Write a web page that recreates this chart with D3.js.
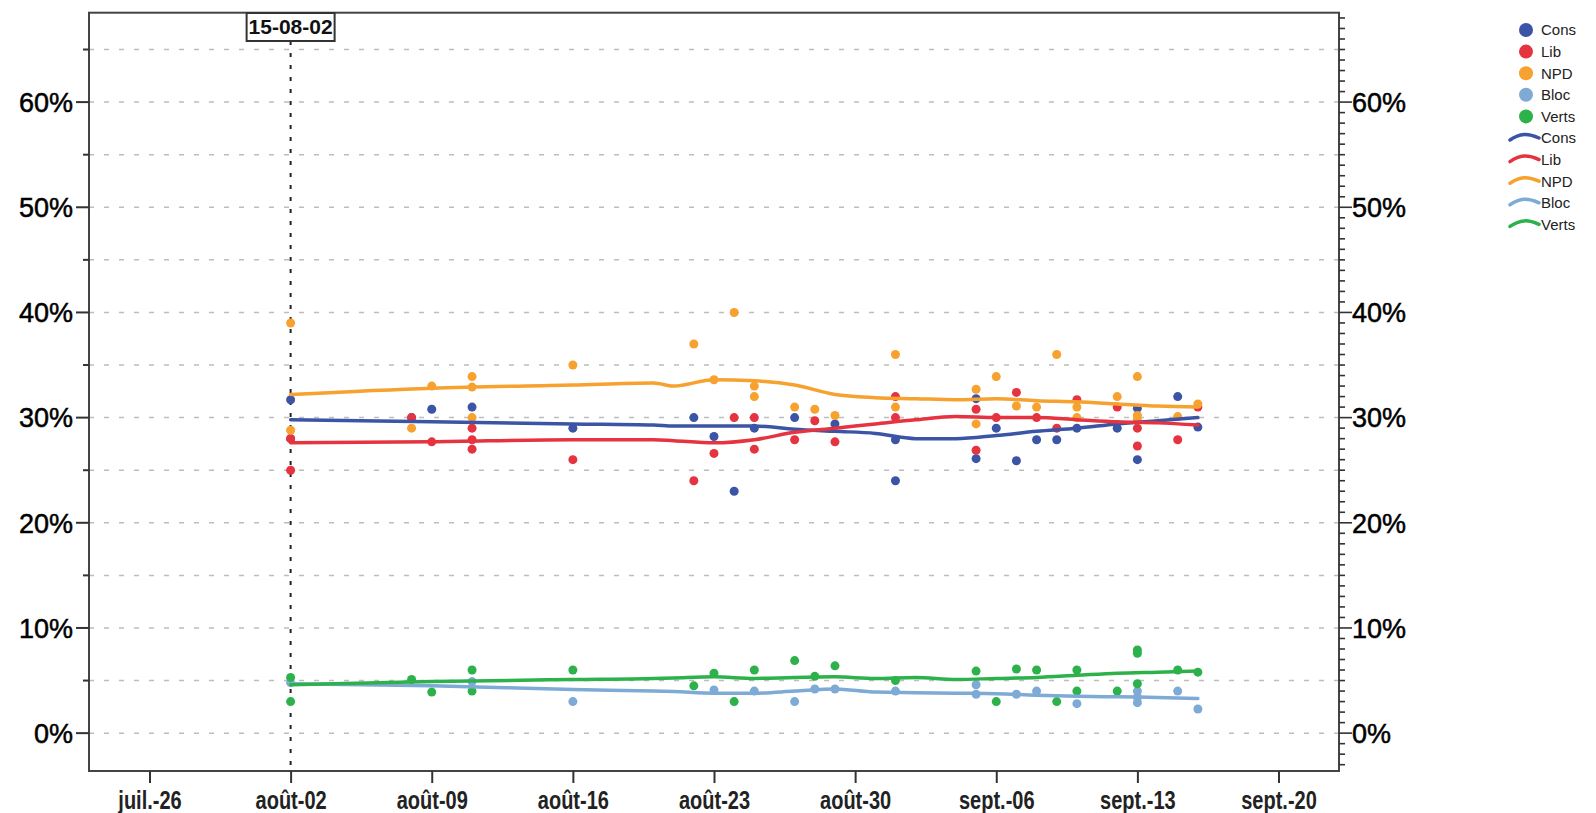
<!DOCTYPE html>
<html>
<head>
<meta charset="utf-8">
<script src="https://cdn.jsdelivr.net/npm/d3@7"></script>
<style>
  html, body { margin: 0; padding: 0; background: #fff; }
  svg { display: block; }
</style>
</head>
<body>
<svg id="chart" width="1596" height="813"></svg>
<script>
// --- Daten: Umfragen (Punkte) ---
const parties = ['Cons', 'Lib', 'NPD', 'Bloc', 'Verts'];
const partyColors = ['#3b54a5', '#e5333f', '#f7a12f', '#7eaad6', '#2db24b'];

const consPts = [
  ['2015-08-02', 31.7], ['2015-08-02', 28.0], ['2015-08-08', 30.0], ['2015-08-09', 30.8],
  ['2015-08-11', 31.0], ['2015-08-16', 29.0], ['2015-08-22', 30.0], ['2015-08-23', 28.2],
  ['2015-08-24', 23.0], ['2015-08-25', 29.0], ['2015-08-27', 30.0], ['2015-08-29', 29.4],
  ['2015-09-01', 27.9], ['2015-09-01', 24.0], ['2015-09-05', 31.8], ['2015-09-05', 26.1],
  ['2015-09-06', 29.0], ['2015-09-07', 25.9], ['2015-09-08', 27.9], ['2015-09-09', 27.9],
  ['2015-09-10', 29.0], ['2015-09-12', 29.0], ['2015-09-13', 30.9], ['2015-09-13', 26.0],
  ['2015-09-15', 32.0], ['2015-09-16', 29.1]
];
const libPts = [
  ['2015-08-02', 25.0], ['2015-08-02', 28.0], ['2015-08-08', 30.0], ['2015-08-09', 27.7],
  ['2015-08-11', 29.0], ['2015-08-11', 27.9], ['2015-08-11', 27.0], ['2015-08-16', 26.0],
  ['2015-08-22', 24.0], ['2015-08-23', 26.6], ['2015-08-24', 30.0], ['2015-08-25', 30.0],
  ['2015-08-25', 27.0], ['2015-08-27', 27.9], ['2015-08-28', 29.7], ['2015-08-29', 27.7],
  ['2015-09-01', 32.0], ['2015-09-01', 30.0], ['2015-09-05', 30.8], ['2015-09-05', 26.9],
  ['2015-09-06', 30.0], ['2015-09-07', 32.4], ['2015-09-08', 30.0], ['2015-09-09', 29.0],
  ['2015-09-10', 31.7], ['2015-09-12', 31.0], ['2015-09-13', 29.0], ['2015-09-13', 27.3],
  ['2015-09-15', 27.9], ['2015-09-16', 31.0]
];
const npdPts = [
  ['2015-08-02', 39.0], ['2015-08-02', 28.8], ['2015-08-08', 29.0], ['2015-08-09', 33.0],
  ['2015-08-11', 33.9], ['2015-08-11', 32.9], ['2015-08-11', 30.0], ['2015-08-16', 35.0],
  ['2015-08-22', 37.0], ['2015-08-23', 33.6], ['2015-08-24', 40.0], ['2015-08-25', 33.0],
  ['2015-08-25', 32.0], ['2015-08-27', 31.0], ['2015-08-28', 30.8], ['2015-08-29', 30.2],
  ['2015-09-01', 36.0], ['2015-09-01', 31.0], ['2015-09-05', 32.7], ['2015-09-05', 29.4],
  ['2015-09-06', 33.9], ['2015-09-07', 31.1], ['2015-09-08', 31.0], ['2015-09-09', 36.0],
  ['2015-09-10', 31.0], ['2015-09-10', 30.0], ['2015-09-12', 32.0], ['2015-09-13', 33.9],
  ['2015-09-13', 30.2], ['2015-09-13', 29.8], ['2015-09-15', 30.1], ['2015-09-16', 31.3]
];
const blocPts = [
  ['2015-08-02', 4.8], ['2015-08-11', 4.9], ['2015-08-16', 3.0], ['2015-08-23', 4.1],
  ['2015-08-25', 4.0], ['2015-08-27', 3.0], ['2015-08-28', 4.2], ['2015-08-29', 4.2],
  ['2015-09-01', 4.0], ['2015-09-05', 4.6], ['2015-09-05', 3.7], ['2015-09-07', 3.7],
  ['2015-09-08', 4.0], ['2015-09-10', 2.8], ['2015-09-13', 4.0], ['2015-09-13', 3.4],
  ['2015-09-13', 2.9], ['2015-09-15', 4.0], ['2015-09-16', 2.3]
];
const vertsPts = [
  ['2015-08-02', 5.3], ['2015-08-02', 3.0], ['2015-08-08', 5.1], ['2015-08-09', 3.9],
  ['2015-08-11', 6.0], ['2015-08-11', 4.0], ['2015-08-16', 6.0], ['2015-08-22', 4.5],
  ['2015-08-23', 5.7], ['2015-08-24', 3.0], ['2015-08-25', 6.0], ['2015-08-27', 6.9],
  ['2015-08-28', 5.4], ['2015-08-29', 6.4], ['2015-09-01', 5.0], ['2015-09-05', 5.9],
  ['2015-09-06', 3.0], ['2015-09-07', 6.1], ['2015-09-08', 6.0], ['2015-09-09', 3.0],
  ['2015-09-10', 6.0], ['2015-09-10', 4.0], ['2015-09-12', 4.0], ['2015-09-13', 7.9],
  ['2015-09-13', 7.6], ['2015-09-13', 4.7], ['2015-09-15', 6.0], ['2015-09-16', 5.8]
];

// --- Daten: Trendlinien (geglättet) ---
const trendDates = [
  '2015-08-02', '2015-08-09', '2015-08-16', '2015-08-20', '2015-08-21', '2015-08-23',
  '2015-08-25', '2015-08-27', '2015-08-29', '2015-08-31', '2015-09-02', '2015-09-04',
  '2015-09-06', '2015-09-08', '2015-09-10', '2015-09-12', '2015-09-14', '2015-09-16'
];
const consTrend  = [29.8, 29.6, 29.4, 29.3, 29.2, 29.2, 29.2, 28.9, 28.7, 28.5, 28.0, 28.0, 28.3, 28.7, 29.0, 29.4, 29.7, 30.0];
const libTrend   = [27.6, 27.7, 27.9, 27.9, 27.8, 27.6, 27.9, 28.6, 29.0, 29.4, 29.8, 30.1, 30.0, 30.0, 29.8, 29.6, 29.5, 29.3];
const npdTrend   = [32.2, 32.8, 33.1, 33.3, 33.0, 33.6, 33.5, 33.1, 32.2, 31.9, 31.8, 31.7, 31.8, 31.6, 31.5, 31.3, 31.1, 31.0];
const blocTrend  = [4.7, 4.5, 4.15, 4.0, 3.95, 3.8, 3.8, 4.0, 4.2, 3.9, 3.85, 3.8, 3.75, 3.6, 3.5, 3.45, 3.4, 3.3];
const vertsTrend = [4.6, 4.9, 5.1, 5.2, 5.25, 5.35, 5.2, 5.3, 5.35, 5.2, 5.3, 5.1, 5.2, 5.3, 5.5, 5.7, 5.8, 5.9];

const yTicks = [0, 10, 20, 30, 40, 50, 60];
const monthAbbr = ['janv.', 'févr.', 'mars', 'avr.', 'mai', 'juin', 'juil.', 'août', 'sept.', 'oct.', 'nov.', 'déc.'];
const refDate = '2015-08-02';
const refLabel = '15-08-02';

(function () {
  'use strict';

  const parse = d3.timeParse('%Y-%m-%d');
  const pointSets = [consPts, libPts, npdPts, blocPts, vertsPts];
  const trendSets = [consTrend, libTrend, npdTrend, blocTrend, vertsTrend];

  const L = 89, R = 1339, T = 12.7, B = 771;

  const x = d3.scaleTime()
    .domain([new Date(2015, 6, 23), new Date(2015, 8, 23)])
    .range([L, R]);
  const y = d3.scaleLinear()
    .domain([-3.6, 68.5])
    .range([B, T]);

  const svg = d3.select('#chart');

  // Gitterlinien alle 5 %
  svg.append('g')
    .selectAll('line')
    .data(d3.range(0, 70, 5))
    .enter().append('line')
    .attr('x1', L).attr('x2', R)
    .attr('y1', d => y(d)).attr('y2', d => y(d))
    .attr('stroke', '#bdbdbd')
    .attr('stroke-width', 1.5)
    .attr('stroke-dasharray', '5,10');

  // Referenzlinie
  const rx = x(parse(refDate));
  svg.append('line')
    .attr('x1', rx).attr('x2', rx)
    .attr('y1', 41).attr('y2', B)
    .attr('stroke', '#222')
    .attr('stroke-width', 2)
    .attr('stroke-dasharray', '4,8');

  // Punkte
  pointSets.forEach((pts, i) => {
    svg.append('g')
      .selectAll('circle')
      .data(pts)
      .enter().append('circle')
      .attr('cx', d => x(parse(d[0])))
      .attr('cy', d => y(d[1]))
      .attr('r', 4.5)
      .attr('fill', partyColors[i]);
  });

  // Trendlinien
  const line = d3.line()
    .x((d, j) => x(parse(trendDates[j])))
    .y(d => y(d))
    .curve(d3.curveMonotoneX);

  trendSets.forEach((vals, i) => {
    svg.append('path')
      .datum(vals)
      .attr('d', line)
      .attr('fill', 'none')
      .attr('stroke', partyColors[i])
      .attr('stroke-width', 3.5)
      .attr('stroke-linecap', 'round');
  });

  // Rahmen
  svg.append('rect')
    .attr('x', L).attr('y', T)
    .attr('width', R - L).attr('height', B - T)
    .attr('fill', 'none')
    .attr('stroke', '#444')
    .attr('stroke-width', 2);

  // Y-Achse links
  const yLeft = svg.append('g').attr('transform', `translate(${L},0)`);
  yLeft.selectAll('line')
    .data(d3.range(0, 70, 5))
    .enter().append('line')
    .attr('x1', d => d % 10 === 0 ? -13 : -6).attr('x2', 0)
    .attr('y1', d => y(d)).attr('y2', d => y(d))
    .attr('stroke', '#333').attr('stroke-width', 2);
  yLeft.selectAll('text')
    .data(yTicks)
    .enter().append('text')
    .attr('x', -16)
    .attr('y', d => y(d))
    .attr('dy', '0.36em')
    .attr('text-anchor', 'end')
    .attr('font-family', 'Liberation Sans, Arial, sans-serif')
    .attr('font-size', '27px')
    .attr('stroke', '#000').attr('stroke-width', 0.5)
    .attr('fill', '#000')
    .text(d => d + '%');

  // Y-Achse rechts
  const yRight = svg.append('g').attr('transform', `translate(${R},0)`);
  yRight.selectAll('line')
    .data(d3.range(-3, 69, 1))
    .enter().append('line')
    .attr('x1', 0).attr('x2', d => d % 10 === 0 ? 13 : 6)
    .attr('y1', d => y(d)).attr('y2', d => y(d))
    .attr('stroke', '#333').attr('stroke-width', 1.6);
  yRight.selectAll('text')
    .data(yTicks)
    .enter().append('text')
    .attr('x', 13)
    .attr('y', d => y(d))
    .attr('dy', '0.36em')
    .attr('text-anchor', 'start')
    .attr('font-family', 'Liberation Sans, Arial, sans-serif')
    .attr('font-size', '27px')
    .attr('stroke', '#000').attr('stroke-width', 0.5)
    .attr('fill', '#000')
    .text(d => d + '%');

  // X-Achse
  const fmt = d => `${monthAbbr[d.getMonth()]}-${String(d.getDate()).padStart(2, '0')}`;
  const xAxis = svg.append('g')
    .attr('transform', `translate(0,${B})`)
    .call(d3.axisBottom(x)
      .ticks(d3.timeWeek.every(1))
      .tickFormat(fmt)
      .tickSize(12)
      .tickPadding(8));
  xAxis.select('.domain').remove();
  xAxis.selectAll('.tick line').attr('stroke', '#333').attr('stroke-width', 2);
  // schmale Schrift nachbilden
  xAxis.selectAll('.tick text')
    .attr('font-family', 'Liberation Sans, Arial, sans-serif')
    .attr('font-weight', '700')
    .attr('font-size', '25px')
    .attr('fill', '#222')
    .attr('transform', 'scale(0.8,1)');

  // Annotation
  const lab = svg.append('g');
  lab.append('rect')
    .attr('x', rx - 44).attr('y', 13)
    .attr('width', 88).attr('height', 28)
    .attr('fill', '#fff')
    .attr('stroke', '#333')
    .attr('stroke-width', 2);
  lab.append('text')
    .attr('x', rx).attr('y', 34)
    .attr('text-anchor', 'middle')
    .attr('font-family', 'Liberation Sans, Arial, sans-serif')
    .attr('font-weight', '700')
    .attr('font-size', '21px')
    .attr('fill', '#111')
    .text(refLabel);

  // Legende
  const leg = svg.append('g');
  const lx = 1526, ly0 = 30, step = 21.6;
  parties.forEach((p, i) => {
    const yy = ly0 + i * step;
    leg.append('circle').attr('cx', lx).attr('cy', yy).attr('r', 7).attr('fill', partyColors[i]);
    leg.append('text')
      .attr('x', lx + 15).attr('y', yy).attr('dy', '0.36em')
      .attr('font-family', 'Liberation Sans, Arial, sans-serif')
      .attr('font-size', '15px').attr('fill', '#222')
      .text(p);
  });
  parties.forEach((p, i) => {
    const yy = ly0 + (i + 5) * step;
    leg.append('path')
      .attr('d', `M${lx - 16},${yy + 2} C${lx - 6},${yy - 5} ${lx + 2},${yy - 5} ${lx + 13},${yy}`)
      .attr('fill', 'none')
      .attr('stroke', partyColors[i])
      .attr('stroke-width', 3.5)
      .attr('stroke-linecap', 'round');
    leg.append('text')
      .attr('x', lx + 15).attr('y', yy).attr('dy', '0.36em')
      .attr('font-family', 'Liberation Sans, Arial, sans-serif')
      .attr('font-size', '15px').attr('fill', '#222')
      .text(p);
  });
})();
</script>
</body>
</html>
